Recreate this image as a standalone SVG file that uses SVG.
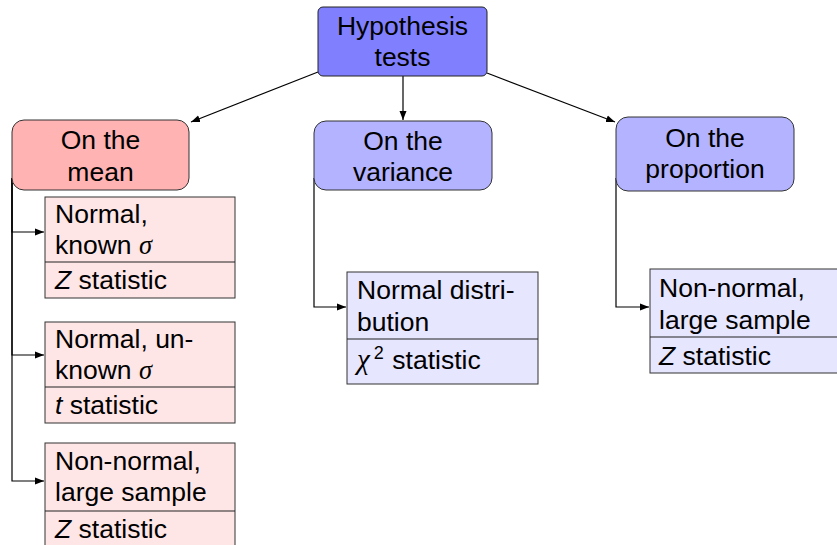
<svg xmlns="http://www.w3.org/2000/svg" width="837" height="545" viewBox="0 0 837 545">
<defs>
<marker id="arr" markerWidth="10" markerHeight="8" refX="9" refY="4" orient="auto" markerUnits="userSpaceOnUse">
<path d="M0,0.5 L9,4 L0,7.5 Z" fill="#000"/>
</marker>
<style>
text{font-family:"Liberation Sans",Arial,Helvetica,sans-serif;font-size:26.5px;fill:#000}
.c{text-anchor:middle}
.g{font-family:"Liberation Serif","Times New Roman",serif;font-style:italic}
.chi{font-size:29px}
.i{font-style:italic}
.sup{font-size:18px}
.root{fill:#8080ff;stroke:#222;stroke-width:1}
.red{fill:#ffb3b3;stroke:#333;stroke-width:1}
.blue{fill:#b3b3ff;stroke:#333;stroke-width:1}
.lred{fill:#ffe6e6;stroke:#333;stroke-width:1}
.lblue{fill:#e6e6ff;stroke:#333;stroke-width:1}
.div{stroke:#222;stroke-width:1}
.con{fill:none;stroke:#000;stroke-width:1.2;marker-end:url(#arr)}
</style>
</defs>
<g id="connectors">
<path class="con" d="M318,72 L191,122"/>
<path class="con" d="M403,76 L403,120"/>
<path class="con" d="M487,73 L615,122"/>
<path class="con" d="M12,178 V232 H44"/>
<path class="con" d="M12,178 V355 H44"/>
<path class="con" d="M12,178 V481 H44"/>
<path class="con" d="M314,178 V307 H346"/>
<path class="con" d="M616,178 V307 H649"/>
</g>
<g id="root">
<rect class="root" x="318" y="7" width="169" height="69" rx="5"/>
<text class="c" x="402.5" y="35">Hypothesis</text>
<text class="c" x="402.5" y="66">tests</text>
</g>
<g id="mean">
<rect class="red" x="12" y="120" width="177" height="70" rx="12"/>
<text class="c" x="100.5" y="149">On the</text>
<text class="c" x="100.5" y="181">mean</text>
</g>
<g id="variance">
<rect class="blue" x="314" y="121" width="178" height="69" rx="12"/>
<text class="c" x="403" y="150">On the</text>
<text class="c" x="403" y="181">variance</text>
</g>
<g id="proportion">
<rect class="blue" x="616" y="117" width="178" height="74" rx="12"/>
<text class="c" x="705" y="147">On the</text>
<text class="c" x="705" y="178">proportion</text>
</g>
<g id="mean-known">
<rect class="lred" x="45" y="197" width="190" height="101"/>
<line class="div" x1="45" y1="262" x2="235" y2="262"/>
<text x="55" y="223">Normal,</text>
<text x="55" y="254">known <tspan class="g">σ</tspan></text>
<text x="55" y="289"><tspan class="i">Z</tspan> statistic</text>
</g>
<g id="mean-unknown">
<rect class="lred" x="45" y="322" width="190" height="101"/>
<line class="div" x1="45" y1="387" x2="235" y2="387"/>
<text x="55" y="348">Normal, un-</text>
<text x="55" y="379">known <tspan class="g">σ</tspan></text>
<text x="55" y="414"><tspan class="i">t</tspan> statistic</text>
</g>
<g id="mean-large">
<rect class="lred" x="45" y="443" width="190" height="110"/>
<line class="div" x1="45" y1="511" x2="235" y2="511"/>
<text x="55" y="470">Non-normal,</text>
<text x="55" y="501">large sample</text>
<text x="55" y="538"><tspan class="i">Z</tspan> statistic</text>
</g>
<g id="variance-normal">
<rect class="lblue" x="347" y="272" width="191" height="112"/>
<line class="div" x1="347" y1="339" x2="538" y2="339"/>
<text x="357" y="299">Normal distri-</text>
<text x="357" y="331">bution</text>
<text x="357" y="369"><tspan class="g chi">χ</tspan><tspan class="sup" dx="4" dy="-10">2</tspan><tspan x="385" dy="10"> statistic</tspan></text>
</g>
<g id="proportion-large">
<rect class="lblue" x="650" y="269" width="191" height="104"/>
<line class="div" x1="650" y1="337" x2="841" y2="337"/>
<text x="659" y="297">Non-normal,</text>
<text x="659" y="329">large sample</text>
<text x="659" y="365"><tspan class="i">Z</tspan> statistic</text>
</g>
</svg>
